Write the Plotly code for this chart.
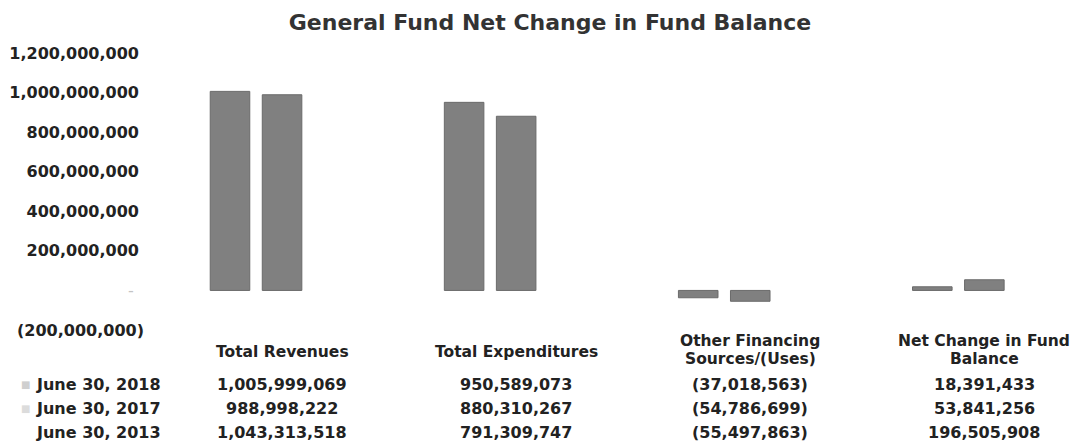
import plotly.graph_objects as go

CATEGORIES = ["Total Revenues", "Total Expenditures",
              "Other Financing<br>Sources/(Uses)", "Net Change in Fund<br>Balance"]
SERIES = ["June 30, 2018", "June 30, 2017", "June 30, 2013"]
FY2018 = [1005999069, 950589073, -37018563, 18391433]
FY2017 = [988998222, 880310267, -54786699, 53841256]
FY2013 = [1043313518, 791309747, -55497863, 196505908]
TICK_VALS = [1200000000, 1000000000, 800000000, 600000000, 400000000, 200000000, 0, -200000000]

VALUES = [FY2018, FY2017, FY2013]
BAR_COLORS = ["#808080", "#808080", "rgba(255,255,255,0)"]
LINE_COLORS = ["#6a6a6a", "#6a6a6a", "rgba(255,255,255,0)"]
KEY_COLORS = ["#cfcfcf", "#dcdcdc", "rgba(255,255,255,0)"]

FONT = "DejaVu Sans"
TXT = "#222222"
NB = "\u00a0"


def fmt(v):
    if v == 0:
        return "-"
    if v < 0:
        return f"({-v:,})"
    return f"{v:,}"


def tick_fmt(v):
    # accounting style: positives padded where the ")" would sit
    if v == 0:
        return f"<span style='color:#c4c4c4'>-</span>{NB * 2}"
    if v < 0:
        return f"<b>{fmt(v)}</b>"
    return f"<b>{fmt(v)}</b>{NB}"


# page offset (body margin) and plot area, in page pixels
OFF = 8
W, H = 1078 - OFF, 443 - OFF
PLOT_TOP, PLOT_BOTTOM, PLOT_LEFT, PLOT_RIGHT = 53, 330, 165, 1078


def py(y):
    return (PLOT_BOTTOM - y) / (PLOT_BOTTOM - PLOT_TOP)


def px(x):
    return (x - PLOT_LEFT) / (PLOT_RIGHT - PLOT_LEFT)


fig = go.Figure()
for name, vals, c, lc in zip(SERIES, VALUES, BAR_COLORS, LINE_COLORS):
    fig.add_trace(go.Bar(x=list(range(len(CATEGORIES))), y=vals, name=name,
                         marker=dict(color=c, line=dict(color=lc, width=1)),
                         showlegend=False))

ann = []
for i, cat in enumerate(CATEGORIES):
    lines = cat.split("<br>")
    ys = [352] if len(lines) == 1 else [341, 359]
    for line, yy in zip(lines, ys):
        ann.append(dict(x=i, xref="x", y=py(yy), yref="paper", yanchor="middle",
                        text=f"<b>{line}</b>", showarrow=False,
                        font=dict(family=FONT, size=15.5, color=TXT)))

row_y = [384, 408, 432]
for r, (name, vals) in enumerate(zip(SERIES, VALUES)):
    ann.append(dict(x=px(34), xref="paper", y=py(row_y[r]), yref="paper",
                    xanchor="left", yanchor="middle", text=f"<b>{name}</b>",
                    showarrow=False, font=dict(family=FONT, size=16, color=TXT)))
    ann.append(dict(x=px(25), xref="paper", y=py(row_y[r]), yref="paper",
                    xanchor="center", yanchor="middle", text="■",
                    showarrow=False, font=dict(family=FONT, size=10, color=KEY_COLORS[r])))
    for i, v in enumerate(vals):
        ann.append(dict(x=i, xref="x", y=py(row_y[r]), yref="paper",
                        yanchor="middle", text=f"<b>{fmt(v)}</b>", showarrow=False,
                        font=dict(family=FONT, size=16, color=TXT)))

fig.update_layout(
    width=W, height=H,
    paper_bgcolor="white", plot_bgcolor="white",
    margin=dict(l=PLOT_LEFT - OFF, r=1078 - PLOT_RIGHT, t=PLOT_TOP - OFF,
                b=443 - PLOT_BOTTOM),
    title=dict(text="<b>General Fund Net Change in Fund Balance</b>",
               x=(550 - OFF) / W, xanchor="center", y=1 - (22 - OFF) / H,
               yanchor="middle",
               font=dict(family=FONT, size=22, color="#333333")),
    barmode="group", bargap=0.333, bargroupgap=0.24,
    xaxis=dict(range=[-0.5, 3.4], showticklabels=False, showgrid=False,
               zeroline=False, showline=False),
    yaxis=dict(range=[-200000000, 1200000000], tickvals=TICK_VALS,
               ticktext=[tick_fmt(v) for v in TICK_VALS],
               showgrid=False, zeroline=False, showline=False,
               ticklabelstandoff=20,
               tickfont=dict(family=FONT, size=16, color=TXT)),
    annotations=ann,
)

fig.write_html("out.html")
